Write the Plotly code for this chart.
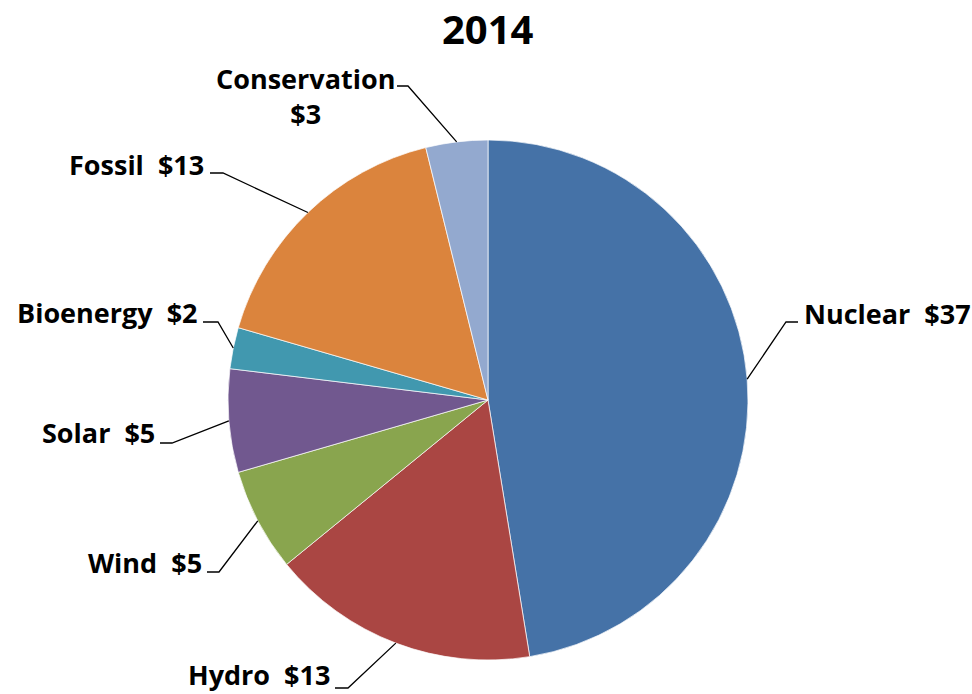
import math
import plotly.graph_objects as go

# ---- data ----
labels = ["Nuclear", "Hydro", "Wind", "Solar", "Bioenergy", "Fossil", "Conservation"]
values = [37, 13, 5, 5, 2, 13, 3]
colors = ["#4572A7", "#AA4643", "#89A54E", "#71588F", "#4198AF", "#DB843D", "#93A9CF"]
title_text = "2014"

# ---- layout constants (pixels) ----
W, H = 972, 694
CX, CY, R = 488, 400, 260
FONT = "Open Sans"
LABEL_SIZE = 27
TITLE_SIZE = 40

# label placement: text anchor (x, y, xanchor, yanchor), line end point (x, y), elbow offset
label_layout = {
    "Nuclear":      dict(tx=803, ty=313, xa="left",   ya="middle", end=(798, 322), elbow=-12),
    "Hydro":        dict(tx=331, ty=694, xa="right",  ya="bottom", end=(335, 688), elbow=13),
    "Wind":         dict(tx=203, ty=562, xa="right",  ya="middle", end=(207, 572), elbow=12),
    "Solar":        dict(tx=156, ty=432, xa="right",  ya="middle", end=(160, 443), elbow=12),
    "Bioenergy":    dict(tx=199, ty=312, xa="right",  ya="middle", end=(203, 322), elbow=15),
    "Fossil":       dict(tx=205, ty=164, xa="right",  ya="middle", end=(210, 173), elbow=13),
    "Conservation": dict(tx=305, ty=96,  xa="center", ya="middle", end=(397, 86),  elbow=11),
}


def px(x):
    return x / W


def py(y):
    return 1 - y / H


fig = go.Figure(go.Pie(
    labels=labels,
    values=values,
    sort=False,
    direction="clockwise",
    rotation=0,
    textinfo="none",
    hoverinfo="label+value",
    marker=dict(colors=colors, line=dict(color="rgba(255,255,255,0.7)", width=1)),
    domain=dict(x=[px(CX - R), px(CX + R)], y=[py(CY + R), py(CY - R)]),
    showlegend=False,
))

total = sum(values)
cum = 0
shapes = []
annotations = []
for lab, val in zip(labels, values):
    mid = (cum + val / 2) / total * 2 * math.pi
    cum += val
    ex = CX + R * math.sin(mid)
    ey = CY - R * math.cos(mid)
    L = label_layout[lab]
    endx, endy = L["end"]
    elx = endx + L["elbow"]
    shapes.append(dict(
        type="path", xref="paper", yref="paper",
        path=f"M {px(ex)} {py(ey)} L {px(elx)} {py(endy)} L {px(endx)} {py(endy)}",
        line=dict(color="black", width=1.3),
    ))
    if lab == "Conservation":
        text = f"{lab}<br>${val}"
    else:
        text = f"{lab}\u00a0 ${val}"
    annotations.append(dict(
        x=px(L["tx"]), y=py(L["ty"]), xref="paper", yref="paper",
        xanchor=L["xa"], yanchor=L["ya"], align="center",
        text=text, showarrow=False, borderpad=0,
        font=dict(family=FONT, size=LABEL_SIZE, color="black", weight="bold"),
    ))

# chart title as a top-anchored annotation
annotations.append(dict(
    x=px(488), y=1, xref="paper", yref="paper",
    xanchor="center", yanchor="top", showarrow=False, borderpad=0,
    text=title_text,
    font=dict(family=FONT, size=TITLE_SIZE, color="black", weight="bold"),
))

fig.update_layout(
    width=W, height=H,
    margin=dict(l=0, r=0, t=0, b=0),
    paper_bgcolor="white", plot_bgcolor="white",
    shapes=shapes,
    annotations=annotations,
)

fig.write_html("out.html")
